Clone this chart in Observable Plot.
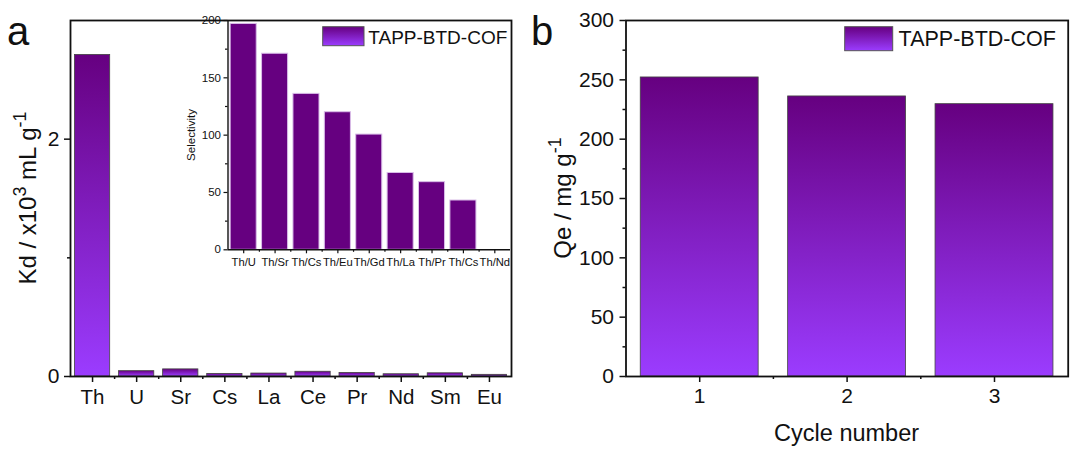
<!DOCTYPE html>
<html><head><meta charset="utf-8">
<script src="https://cdn.jsdelivr.net/npm/d3@7"></script>
<script src="https://cdn.jsdelivr.net/npm/@observablehq/plot@0.6"></script>
<style>
html,body{margin:0;padding:0;background:#fff;}
#wrap{position:relative;width:1078px;height:455px;overflow:hidden;background:#fff;}
#wrap svg{position:absolute;top:0;}
</style></head><body><div id="wrap"></div>
<script>
// ---- data ----
const elements = ["Th","U","Sr","Cs","La","Ce","Pr","Nd","Sm","Eu"];
const kd = [2.71, 0.045, 0.06, 0.022, 0.025, 0.04, 0.03, 0.019, 0.027, 0.014];
const kdTicks = [0, 2];
const kdMinorTicks = [1];

const pairs = ["Th/U","Th/Sr","Th/Cs","Th/Eu","Th/Gd","Th/La","Th/Pr","Th/Cs","Th/Nd"];
const selectivity = [197, 171, 136, 120, 100.5, 67, 59, 43, 0];
const selTicks = [0, 50, 100, 150, 200];
const selMinorTicks = [25, 75, 125, 175];

const cycles = [1, 2, 3];
const qe = [252, 236, 229.5];
const qeTicks = [0, 50, 100, 150, 200, 250, 300];
const qeMinorTicks = [25, 75, 125, 175, 225, 275];

const seriesName = "TAPP-BTD-COF";
const FONT = "'Liberation Sans', Arial, Helvetica, sans-serif";
const TOP = "#660080", BOTTOM = "#9b3cff";

const wrap = document.getElementById("wrap");

function addGradient(svg, id) {
  const defs = svg.insert("defs", ":first-child");
  const g = defs.append("linearGradient").attr("id", id)
    .attr("x1", 0).attr("y1", 0).attr("x2", 0).attr("y2", 1);
  g.append("stop").attr("offset", "0%").attr("stop-color", TOP);
  g.append("stop").attr("offset", "100%").attr("stop-color", BOTTOM);
}
function addText(svg, x, y, fs, str, anchor = "start") {
  return svg.append("text").attr("x", x).attr("y", y).attr("font-size", fs)
    .attr("font-family", FONT).attr("fill", "#111").attr("text-anchor", anchor).text(str);
}
function addLegend(svg, grad, x, y, w, h, tx, ty, fs) {
  svg.append("rect").attr("x", x).attr("y", y).attr("width", w).attr("height", h)
    .attr("fill", `url(#${grad})`).attr("stroke", "#555").attr("stroke-width", 1);
  addText(svg, tx, ty, fs, seriesName);
}
function addYTitle(svg, x, y, fs, parts) {
  const t = svg.append("text").attr("transform", `translate(${x},${y}) rotate(-90)`)
    .attr("text-anchor", "middle").attr("font-size", fs).attr("font-family", FONT).attr("fill", "#111");
  parts.forEach(([s, sup]) => {
    const ts = t.append("tspan").text(s);
    if (sup) ts.attr("baseline-shift", "super").attr("font-size", fs * 0.75);
  });
}

// ---- panel a ----
const dataA = elements.map((e, i) => ({i: i + 1, name: e, v: kd[i]}));
const plotA = Plot.plot({
  width: 520, height: 455,
  marginLeft: 70, marginRight: 9, marginTop: 20, marginBottom: 79,
  style: {background: "transparent", fontFamily: FONT, color: "#111", overflow: "visible"},
  x: {domain: [0.5, elements.length + 0.5], label: null},
  y: {domain: [0, 3], label: null},
  marks: [
    Plot.rectY(dataA, {x1: d => d.i - 0.4, x2: d => d.i + 0.4, y: "v",
      fill: "url(#gradA)", stroke: "#444", strokeWidth: 0.8}),
    Plot.axisY(kdTicks, {tickSize: 6, tickPadding: 5, fontSize: 21, strokeWidth: 1.5, label: null, tickFormat: d3.format("d")}),
    Plot.axisY(kdMinorTicks, {tickSize: 3, strokeWidth: 1.5, label: null, tickFormat: () => ""}),
    Plot.axisX(dataA.map(d => d.i), {tickSize: 6, tickPadding: 7, fontSize: 20.5, strokeWidth: 1.5, label: null,
      tickFormat: i => elements[i - 1]}),
    Plot.axisX(dataA.slice(1).map(d => d.i - 0.5), {tickSize: 3, strokeWidth: 1.5, label: null, tickFormat: () => ""}),
    Plot.frame({stroke: "#111", strokeWidth: 1.8})
  ]
});
plotA.style.left = "0px";
wrap.appendChild(plotA);
{
  const s = d3.select(plotA);
  addGradient(s, "gradA");
  addLegend(s, "gradA", 322.7, 26.7, 41.3, 19, 368.3, 43.5, 19);
  addText(s, 7, 45, 40, "a");
  addYTitle(s, 36, 198, 24, [["Kd / x10", false], ["3", true], [" mL g", false], ["-1", true]]);
}

// ---- inset ----
const dataI = pairs.map((p, i) => ({i: i + 1, name: p, v: selectivity[i]}));
const plotI = Plot.plot({
  width: 340, height: 280,
  marginLeft: 47.5, marginRight: 10, marginTop: 20, marginBottom: 30.7,
  style: {background: "transparent", fontFamily: FONT, color: "#111", overflow: "visible"},
  x: {domain: [0.5, pairs.length + 0.5], label: null},
  y: {domain: [0, 200], label: null},
  marks: [
    Plot.rectY(dataI, {x1: d => d.i - 0.415, x2: d => d.i + 0.415, y: "v",
      fill: "#660080", stroke: "#d9bde8", strokeWidth: 1}),
    Plot.ruleY([0], {stroke: "#111", strokeWidth: 1.4}),
    Plot.ruleX([0.5], {stroke: "#111", strokeWidth: 1.4}),
    Plot.axisY(selTicks, {tickSize: 4, tickPadding: 3, fontSize: 11.5, strokeWidth: 1.2, label: null, tickFormat: d3.format("d")}),
    Plot.axisY(selMinorTicks, {tickSize: 2.5, strokeWidth: 1.2, label: null, tickFormat: () => ""}),
    Plot.axisX(dataI.map(d => d.i), {tickSize: 4, tickPadding: 4, fontSize: 11.2, strokeWidth: 1.2, label: null,
      tickFormat: i => pairs[i - 1]}),
    Plot.axisX(dataI.slice(1).map(d => d.i - 0.5), {tickSize: 2.5, strokeWidth: 1.2, label: null, tickFormat: () => ""})
  ]
});
plotI.style.left = "180px";
wrap.appendChild(plotI);
{
  const s = d3.select(plotI);
  addYTitle(s, 14.5, 135, 11.5, [["Selectivity", false]]);
}

// ---- panel b ----
const dataB = cycles.map((c, i) => ({i: c, v: qe[i]}));
const plotB = Plot.plot({
  width: 558, height: 455,
  marginLeft: 105.5, marginRight: 10.3, marginTop: 20, marginBottom: 79,
  style: {background: "transparent", fontFamily: FONT, color: "#111", overflow: "visible"},
  x: {domain: [0.5, cycles.length + 0.5], label: null},
  y: {domain: [0, 300], label: null},
  marks: [
    Plot.rectY(dataB, {x1: d => d.i - 0.4, x2: d => d.i + 0.4, y: "v",
      fill: "url(#gradB)", stroke: "#444", strokeWidth: 0.8}),
    Plot.axisY(qeTicks, {tickSize: 6, tickPadding: 6, fontSize: 21, strokeWidth: 1.5, label: null, tickFormat: d3.format("d")}),
    Plot.axisY(qeMinorTicks, {tickSize: 3, strokeWidth: 1.5, label: null, tickFormat: () => ""}),
    Plot.axisX(cycles, {tickSize: 6, tickPadding: 6, fontSize: 21, strokeWidth: 1.5, label: null, tickFormat: d3.format("d")}),
    Plot.axisX(cycles.slice(1).map(c => c - 0.5), {tickSize: 3, strokeWidth: 1.5, label: null, tickFormat: () => ""}),
    Plot.frame({stroke: "#111", strokeWidth: 1.8})
  ]
});
plotB.style.left = "520px";
wrap.appendChild(plotB);
{
  const s = d3.select(plotB);
  addGradient(s, "gradB");
  addLegend(s, "gradB", 324.7, 26.7, 48, 24, 378.6, 45.5, 21.5);
  addText(s, 11, 45, 40, "b");
  addYTitle(s, 51, 198, 24, [["Qe / mg g", false], ["-1", true]]);
  addText(s, 326.6, 441, 23.5, "Cycle number", "middle");
}
</script></body></html>
